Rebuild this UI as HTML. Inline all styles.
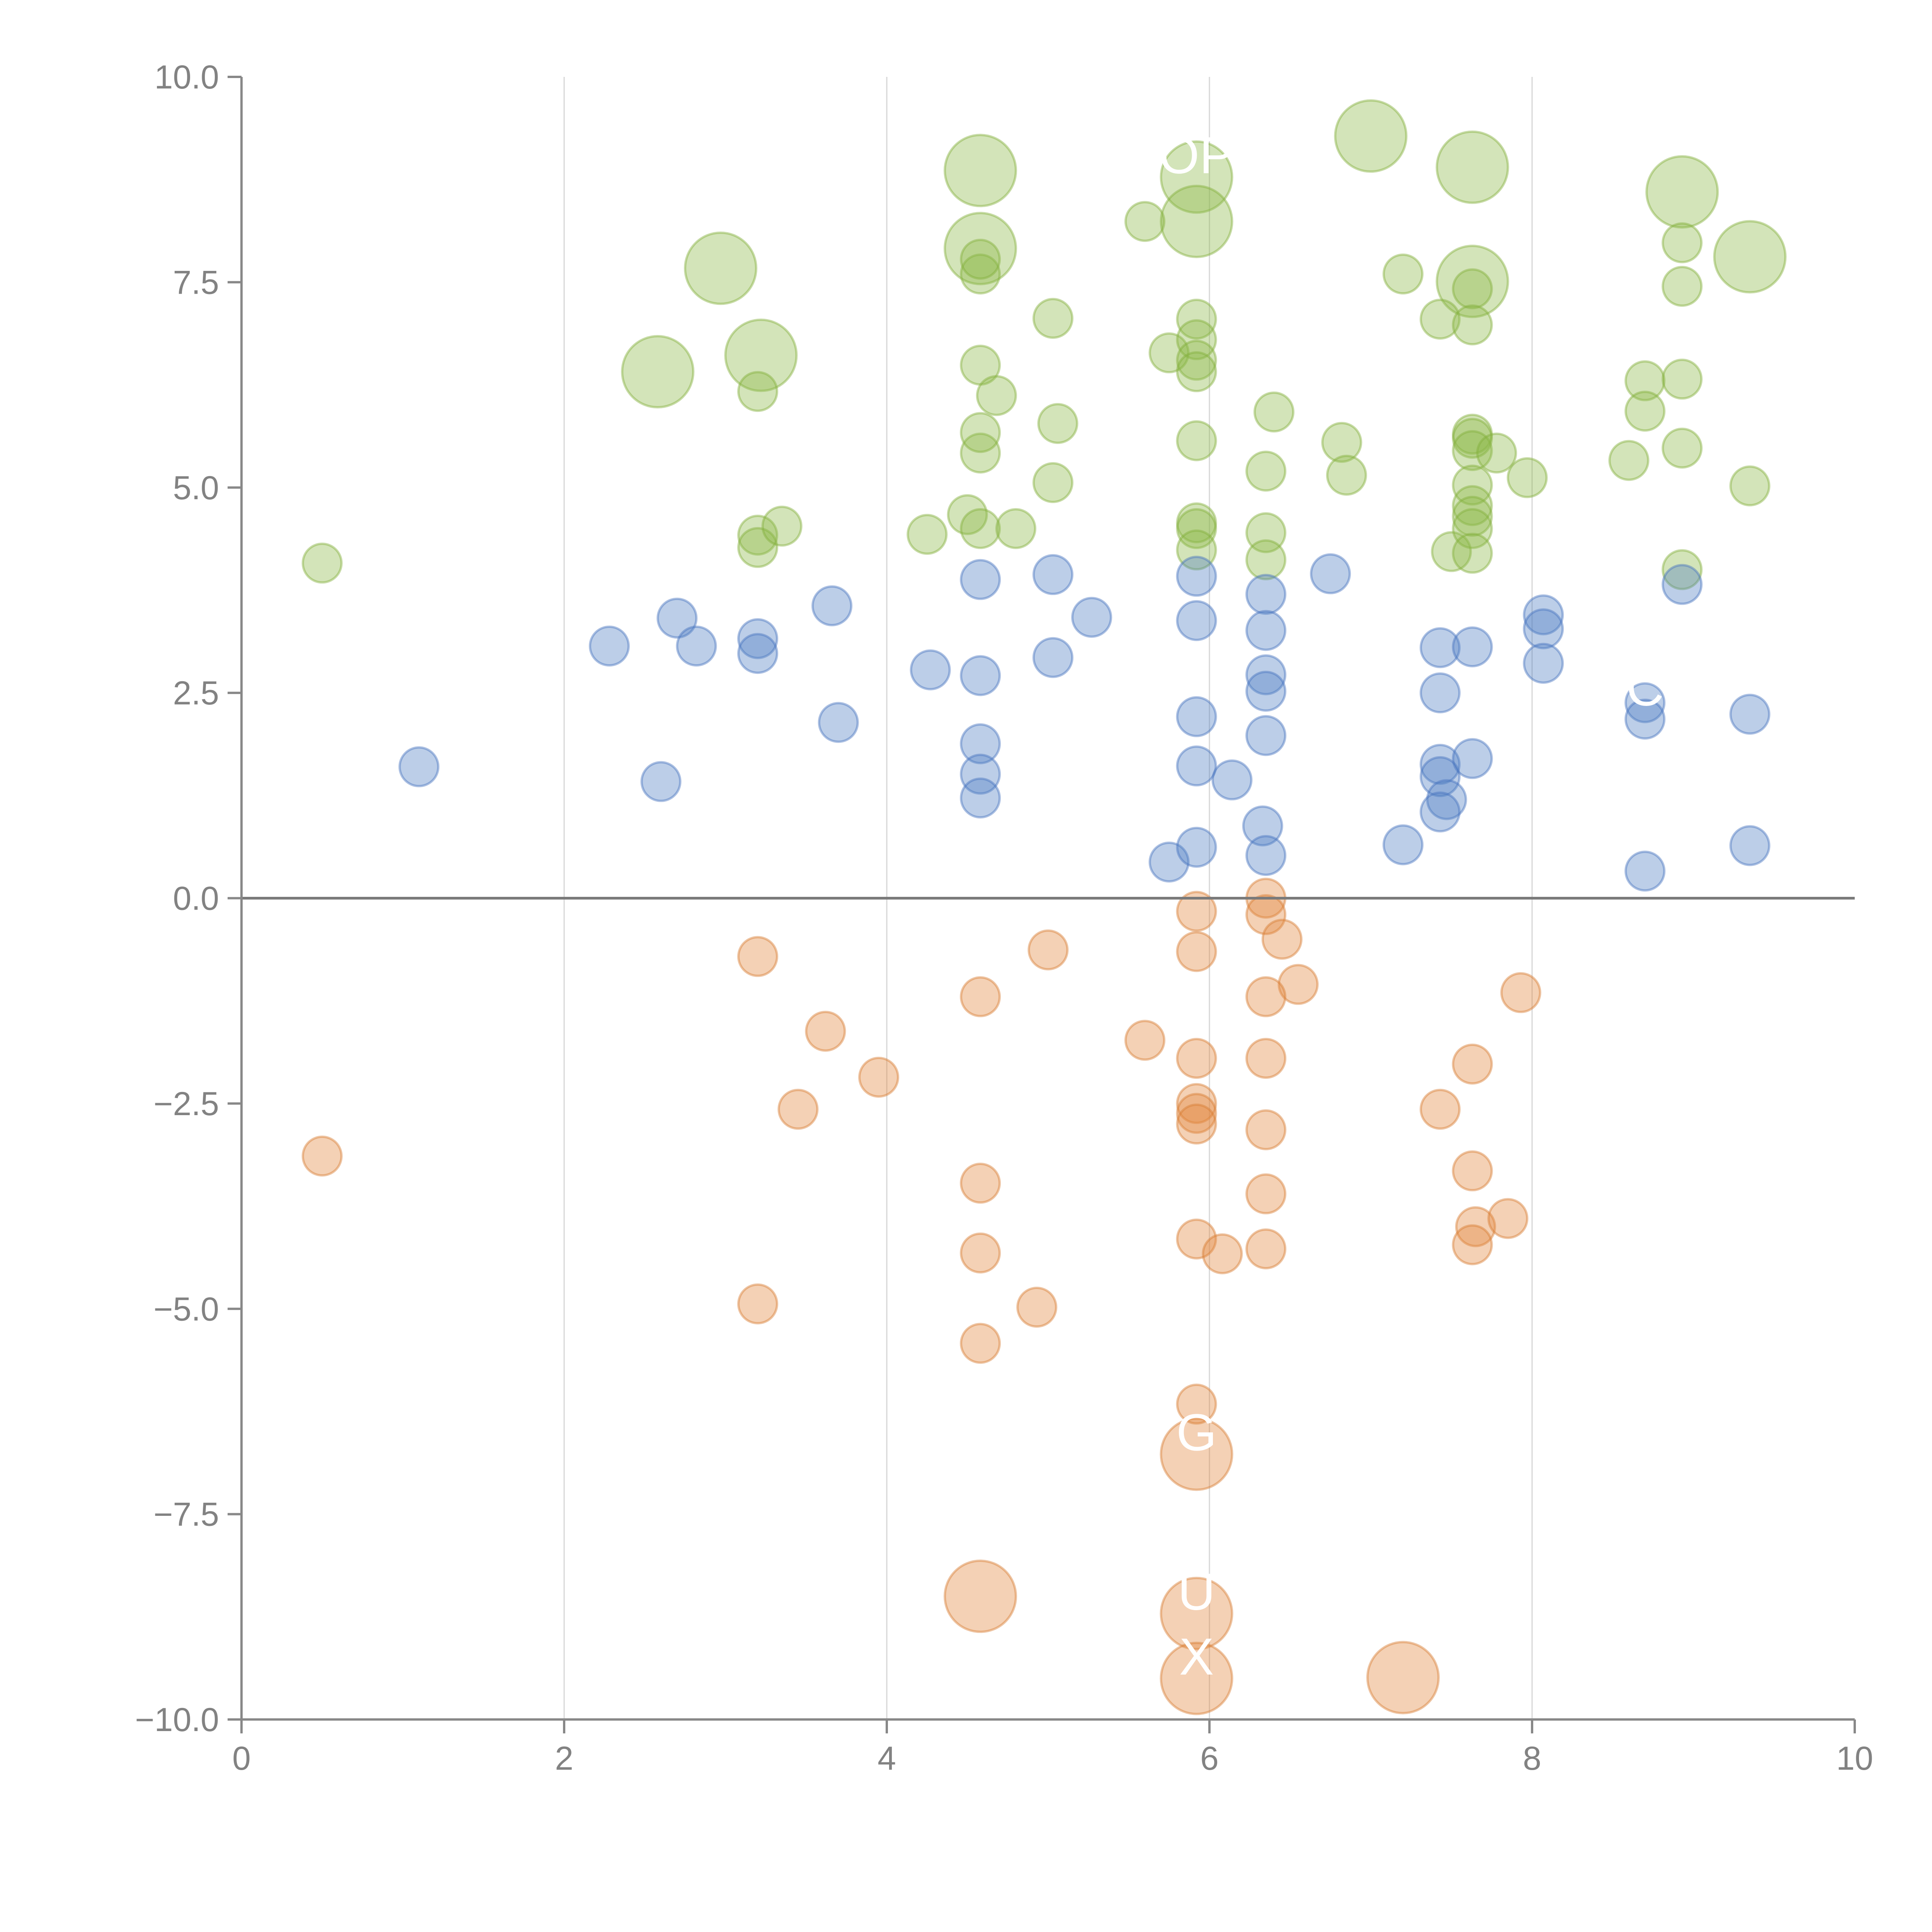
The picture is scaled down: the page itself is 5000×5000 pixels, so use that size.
<!DOCTYPE html>
<html><head><meta charset="utf-8"><style>html,body{margin:0;padding:0;background:#fff}svg{display:block}</style></head>
<body>
<svg id="chart" width="5000" height="5000" xmlns="http://www.w3.org/2000/svg" font-family="Liberation Sans, sans-serif">
<g id="grid"></g>
<g id="marks"></g>
<g id="axes"></g>
<g id="labels"></g>
</svg>
<script>
const xTicks=[0,2,4,6,8,10];
const yTicks=[-10,-7.5,-5,-2.5,0,2.5,5,7.5,10];
const yTickLabels=["\u221210.0","\u22127.5","\u22125.0","\u22122.5","0.0","2.5","5.0","7.5","10.0"];
const greenX=[2.97,2.58,3.22,4.58,4.58,5.92,5.92,7.0,7.63,7.63,8.93,9.35,
0.5,3.2,3.2,3.2,3.35,4.25,4.5,4.58,4.8,4.58,4.58,4.58,4.68,4.58,4.58,5.03,5.06,5.03,5.6,5.75,5.92,5.92,5.92,5.92,5.92,5.92,5.92,5.92,6.35,6.35,6.35,6.4,6.82,6.85,7.2,7.43,7.5,7.63,7.63,7.63,7.63,7.63,7.78,7.63,7.63,7.63,7.63,7.63,7.97,8.6,8.7,8.7,8.93,8.93,8.93,8.93,8.93,9.35];
const greenY=[7.67,6.41,6.61,8.86,7.91,8.78,8.24,9.28,8.9,7.51,8.6,7.81,
4.08,6.17,4.42,4.27,4.53,4.43,4.67,4.5,4.5,5.42,5.67,6.49,6.12,7.6,7.78,7.06,5.78,5.06,8.24,6.64,7.05,6.8,6.55,6.41,5.57,4.57,4.5,4.24,5.2,4.45,4.12,5.92,5.55,5.15,7.6,7.05,4.22,7.42,6.98,5.65,5.6,5.45,5.42,5.03,4.78,4.65,4.5,4.2,5.12,5.33,6.3,5.93,7.98,7.45,6.32,5.48,4.0,5.02];
const greenSize=[2,2,2,2,2,2,2,2,2,2,2,2,1,1,1,1,1,1,1,1,1,1,1,1,1,1,1,1,1,1,1,1,1,1,1,1,1,1,1,1,1,1,1,1,1,1,1,1,1,1,1,1,1,1,1,1,1,1,1,1,1,1,1,1,1,1,1,1,1,1];
const blueX=[1.1,2.28,2.6,2.7,2.82,3.2,3.2,3.66,3.7,4.27,4.58,4.58,4.58,4.58,4.58,5.03,5.03,5.27,5.75,5.92,5.92,5.92,5.92,5.92,6.14,6.33,6.35,6.35,6.35,6.35,6.35,6.35,6.75,7.2,7.43,7.43,7.43,7.43,7.47,7.43,7.63,7.63,8.07,8.07,8.07,8.7,8.7,8.7,8.93,9.35,9.35];
const blueY=[1.6,3.07,1.42,3.41,3.07,3.16,2.98,3.56,2.14,2.78,3.88,2.71,1.88,1.51,1.22,3.94,2.93,3.42,0.44,3.92,3.38,2.21,1.61,0.62,1.44,0.88,0.52,3.7,3.26,2.72,2.52,1.98,3.95,0.65,3.05,2.5,1.63,1.48,1.2,1.05,3.06,1.7,3.45,3.28,2.86,2.38,2.18,0.33,3.82,2.24,0.64];
const orangeX=[4.58,5.92,5.92,5.92,7.2,
0.5,3.2,3.2,3.45,3.62,3.95,4.58,4.58,4.58,4.58,5.0,4.93,5.6,5.92,5.92,5.92,5.92,5.92,5.92,5.92,5.92,6.08,6.35,6.35,6.45,6.55,6.35,6.35,6.35,6.35,6.35,7.43,7.63,7.63,7.65,7.63,7.85,7.93];
const orangeY=[-8.5,-6.77,-8.71,-9.5,-9.49,
-3.14,-0.71,-4.94,-2.57,-1.62,-2.18,-1.2,-3.47,-4.32,-5.42,-0.63,-4.98,-1.73,-0.16,-0.65,-1.95,-2.5,-2.62,-2.75,-4.15,-6.16,-4.33,0.0,-0.2,-0.5,-1.05,-1.2,-1.95,-2.82,-3.6,-4.27,-2.57,-2.02,-3.32,-4.0,-4.22,-3.9,-1.15];
const orangeSize=[2,2,2,2,2,1,1,1,1,1,1,1,1,1,1,1,1,1,1,1,1,1,1,1,1,1,1,1,1,1,1,1,1,1,1,1,1,1,1,1,1,1,1];
const labelText=["OP","G","U","X","C"];
const labelX=[5.92,5.92,5.92,5.92,8.7];
const labelY=[8.78,-6.77,-8.71,-9.5,2.3];

const NS="http://www.w3.org/2000/svg";
const X0=625,X1=4800,YT=199,YB=4450;
const sx=v=>X0+(v-0)/(10-0)*(X1-X0);
const sy=v=>YB-(v+10)/20*(YB-YT);
function mk(tag,attrs,parent){const e=document.createElementNS(NS,tag);for(const k in attrs)e.setAttribute(k,attrs[k]);parent.appendChild(e);return e;}
const grid=document.getElementById('grid'),marks=document.getElementById('marks'),axes=document.getElementById('axes'),labels=document.getElementById('labels');
[2,4,6,8].forEach(t=>{const l=mk('line',{x1:sx(t),x2:sx(t),y1:YT,y2:YB,stroke:'#d6d6d6','stroke-width':3},grid);

});
function series(xs,ys,sizes,fill,stroke,name){
 xs.forEach((x,i)=>{const r=(sizes&&sizes[i]===2)?92:50;
  const c=mk('circle',{cx:sx(x),cy:sy(ys[i]),r:r,fill:fill,'fill-opacity':0.38,stroke:stroke,'stroke-opacity':0.45,'stroke-width':6},marks);
  
  });
}
series(greenX,greenY,greenSize,'rgb(140,185,70)','rgb(130,175,60)','green-bubble');
series(blueX,blueY,null,'rgb(80,125,195)','rgb(70,115,190)','blue-bubble');
series(orangeX,orangeY,orangeSize,'rgb(225,135,60)','rgb(215,125,50)','orange-bubble');
// zero line
const z=mk('line',{x1:X0,x2:X1,y1:sy(0),y2:sy(0),stroke:'#7a7a7a','stroke-width':7},axes);


const ya=mk('line',{x1:X0,x2:X0,y1:YT,y2:YB,stroke:'#888','stroke-width':6},axes);


const xa=mk('line',{x1:X0,x2:X1,y1:YB,y2:YB,stroke:'#888','stroke-width':6},axes);


yTicks.forEach((t,i)=>{mk('line',{x1:X0-36,x2:X0,y1:sy(t),y2:sy(t),stroke:'#888','stroke-width':6},axes);
 const tx=mk('text',{x:X0-58,y:sy(t)+30,'text-anchor':'end','font-size':86,fill:'#828282'},axes);tx.textContent=yTickLabels[i];
 
 });
xTicks.forEach(t=>{mk('line',{x1:sx(t),x2:sx(t),y1:YB,y2:YB+36,stroke:'#888','stroke-width':6},axes);
 const tx=mk('text',{x:sx(t),y:YB+130,'text-anchor':'middle','font-size':86,fill:'#828282'},axes);tx.textContent=String(t);
 
 });
labelText.forEach((s,i)=>{const tx=mk('text',{x:sx(labelX[i]),y:sy(labelY[i])-10,'text-anchor':'middle','font-size':135,fill:'#fff'},labels);tx.textContent=s;
 
 });
</script>
</body></html>
